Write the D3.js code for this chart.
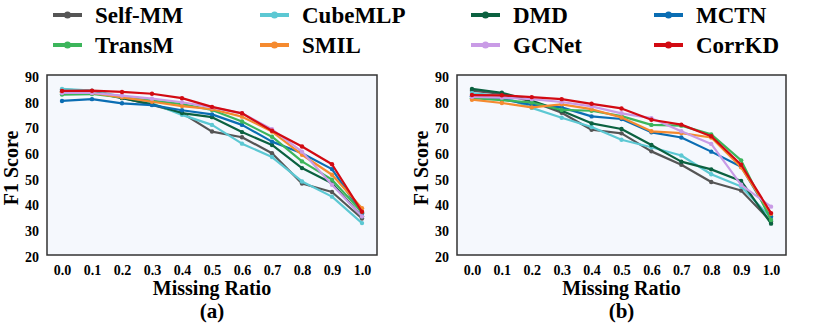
<!DOCTYPE html>
<html><head><meta charset="utf-8">
<script src="https://cdn.jsdelivr.net/npm/d3@7"></script>
<style>body{margin:0;background:#fff}svg{display:block}</style>
</head><body><svg id="c" width="830" height="328"></svg>
<script>
const ratios = [0.0,0.1,0.2,0.3,0.4,0.5,0.6,0.7,0.8,0.9,1.0];
const methods = ["Self-MM","CubeMLP","DMD","MCTN","TransM","SMIL","GCNet","CorrKD"];
const colors = ["#555555","#5cc8d3","#0b6140","#0a6db3","#3cb55b","#f58a2f","#c99be6","#d20a12"];
const yTicks = [20,30,40,50,60,70,80,90];
const panelLabels = ["(a)","(b)"];

const a_SelfMM  = [84.3,83.8,81.2,78.4,75.2,68.0,65.8,59.6,47.8,44.5,34.2];
const a_CubeMLP = [84.6,83.9,81.6,79.0,74.5,70.6,63.3,58.1,48.6,42.7,32.4];
const a_DMD     = [83.6,83.4,81.0,78.6,75.2,73.6,67.8,62.8,53.8,47.9,35.0];
const a_MCTN    = [79.9,80.6,79.0,78.3,76.3,74.7,70.6,64.1,59.6,53.4,36.2];
const a_TransM  = [82.4,82.6,81.3,80.0,78.7,76.4,71.9,66.0,56.4,49.3,36.6];
const a_SMIL    = [83.3,83.0,81.3,79.6,77.9,76.7,73.8,68.0,59.0,51.2,38.2];
const a_GCNet   = [83.0,83.0,82.0,80.8,79.4,77.4,75.1,68.9,60.2,47.3,35.0];
const a_CorrKD  = [83.8,83.9,83.4,82.7,81.0,77.6,75.1,68.3,62.2,55.3,36.8];

const b_SelfMM  = [83.9,82.6,79.7,75.3,68.7,67.3,60.3,55.1,48.4,45.1,33.0];
const b_CubeMLP = [83.0,81.8,77.2,73.4,69.8,64.8,61.9,58.7,51.4,46.6,34.4];
const b_DMD     = [84.6,83.1,80.0,76.1,71.2,69.0,62.8,56.3,53.3,48.8,32.2];
const b_MCTN    = [81.7,80.6,78.4,77.4,73.9,72.9,67.7,65.7,60.2,54.3,35.0];
const b_TransM  = [81.0,80.2,79.3,76.4,76.1,74.0,70.6,70.3,66.9,56.8,33.6];
const b_SMIL    = [80.4,79.1,77.4,78.6,76.7,73.5,68.1,67.4,65.7,54.1,36.0];
const b_GCNet   = [81.5,81.2,80.6,79.5,77.8,75.1,73.2,68.1,63.2,47.3,38.8];
const b_CorrKD  = [82.2,82.1,81.4,80.6,78.8,77.0,72.6,70.7,66.2,55.1,36.3];

const panelData = [
  [a_SelfMM,a_CubeMLP,a_DMD,a_MCTN,a_TransM,a_SMIL,a_GCNet,a_CorrKD],
  [b_SelfMM,b_CubeMLP,b_DMD,b_MCTN,b_TransM,b_SMIL,b_GCNet,b_CorrKD]
];

const FONT = "Liberation Serif";
const svg = d3.select("#c");
const panels = [{l:47,r:377},{l:457,r:786}];
const plotTop = 75, plotBottom = 255;

panels.forEach((p,pi)=>{
  const x = d3.scaleLinear().domain([-0.05,1.05]).range([p.l,p.r]);
  const y = d3.scaleLinear().domain([20,90]).range([plotBottom,plotTop]);
  const g = svg.append("g");
  g.append("rect").attr("x",p.l).attr("y",plotTop).attr("width",p.r-p.l).attr("height",plotBottom-plotTop)
    .attr("fill","#f5f8fd").attr("stroke","none");
  const line = d3.line().x((d,i)=>x(ratios[i])).y(d=>y(d));
  panelData[pi].forEach((vals,mi)=>{
    g.append("path").datum(vals).attr("d",line).attr("fill","none")
      .attr("stroke",colors[mi]).attr("stroke-width",2.2).attr("stroke-linejoin","round");
    g.selectAll(null).data(vals).join("circle")
      .attr("cx",(d,i)=>x(ratios[i])).attr("cy",d=>y(d)).attr("r",2.2).attr("fill",colors[mi]);
  });
  g.append("rect").attr("x",p.l).attr("y",plotTop).attr("width",p.r-p.l).attr("height",plotBottom-plotTop)
    .attr("fill","none").attr("stroke","#333").attr("stroke-width",1.5);
  const xa = g.append("g").attr("transform",`translate(0,${plotBottom})`)
    .call(d3.axisBottom(x).tickValues(ratios).tickFormat(d3.format(".1f")).tickSize(0).tickPadding(10));
  xa.attr("font-family",FONT);
  xa.select(".domain").remove();
  xa.selectAll("text").attr("font-size",14).attr("font-weight","bold").attr("fill","#000");
  const ya = g.append("g").attr("transform",`translate(${p.l},0)`)
    .call(d3.axisLeft(y).tickValues(yTicks).tickSize(0).tickPadding(8));
  ya.attr("font-family",FONT);
  ya.select(".domain").remove();
  ya.selectAll("text").attr("font-size",14).attr("font-weight","bold").attr("fill","#000").attr("dy","0.45em");
  const cx = (p.l+p.r)/2;
  g.append("text").attr("font-family",FONT).attr("font-weight","bold").attr("x",cx).attr("y",295).attr("text-anchor","middle").attr("font-size",20).text("Missing Ratio");
  g.append("text").attr("font-family",FONT).attr("font-weight","bold").attr("x",cx).attr("y",318).attr("text-anchor","middle").attr("font-size",21).text(panelLabels[pi]);
  g.append("text").attr("font-family",FONT).attr("font-weight","bold").attr("transform",`translate(${p.l-29},168) rotate(-90)`).attr("text-anchor","middle").attr("font-size",20).text("F1 Score");
});

const colX = [53,260,471,654];
const rowY = [15,45];
methods.forEach((m,i)=>{
  const c = i%4, r = Math.floor(i/4);
  const lg = svg.append("g").attr("transform",`translate(${colX[c]},${rowY[r]})`);
  lg.append("line").attr("x1",0).attr("x2",29).attr("y1",0).attr("y2",0).attr("stroke",colors[i]).attr("stroke-width",4);
  lg.append("circle").attr("cx",14.5).attr("cy",0).attr("r",3.5).attr("fill",colors[i]);
  lg.append("text").attr("font-family",FONT).attr("font-weight","bold").attr("x",42).attr("y",0).attr("dy","0.35em").attr("font-size",23).text(m);
});
</script></body></html>
